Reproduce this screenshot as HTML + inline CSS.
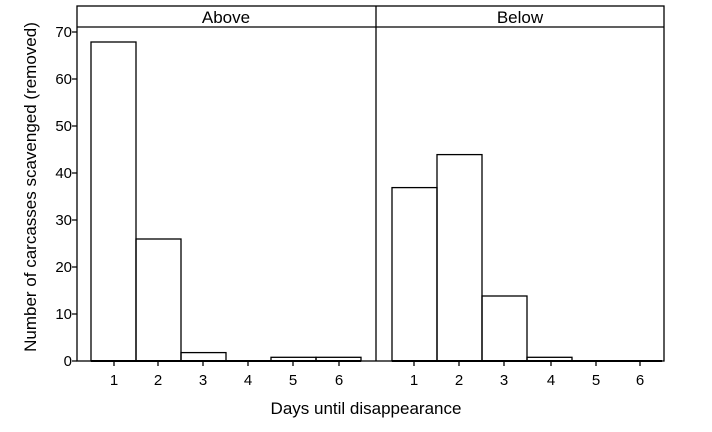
<!DOCTYPE html>
<html><head><style>body{margin:0;background:#fff}</style></head><body>
<svg width="712" height="427" xmlns="http://www.w3.org/2000/svg" font-family="Liberation Sans, sans-serif">
<rect width="712" height="427" fill="#fff"/>
<g fill="none" stroke="#000" stroke-width="1.3">
<rect x="77" y="6" width="587" height="355"/>
<line x1="77" y1="27" x2="664" y2="27"/>
<line x1="376" y1="6" x2="376" y2="361"/>
<rect x="91" y="42" width="45" height="319"/>
<rect x="136" y="239" width="45" height="122"/>
<rect x="181" y="352.6" width="45" height="8.4"/>
<rect x="271" y="357.3" width="45" height="3.7"/>
<rect x="316" y="357.3" width="45" height="3.7"/>
<line x1="91" y1="361" x2="361" y2="361" stroke-width="2"/>
<rect x="392" y="187.6" width="45" height="173.4"/>
<rect x="437" y="154.6" width="45" height="206.4"/>
<rect x="482" y="296" width="45" height="65"/>
<rect x="527" y="357.3" width="45" height="3.7"/>
<line x1="392" y1="361" x2="662" y2="361" stroke-width="2"/>
<path d="M72 32H77M72 79H77M72 126H77M72 173H77M72 220H77M72 267H77M72 314H77M72 361H77"/>
<path d="M114 361V366M158 361V366M203 361V366M248 361V366M293 361V366M339 361V366M414 361V366M459 361V366M504 361V366M551 361V366M596 361V366M640 361V366"/>
</g>
<g font-size="15" text-anchor="end">
<text x="72" y="37">70</text><text x="72" y="84">60</text><text x="72" y="131">50</text><text x="72" y="178">40</text><text x="72" y="225">30</text><text x="72" y="272">20</text><text x="72" y="319">10</text><text x="72" y="366">0</text>
</g>
<g font-size="15" text-anchor="middle">
<text x="114" y="385">1</text><text x="158" y="385">2</text><text x="203" y="385">3</text><text x="248" y="385">4</text><text x="293" y="385">5</text><text x="339" y="385">6</text>
<text x="414" y="385">1</text><text x="459" y="385">2</text><text x="504" y="385">3</text><text x="551" y="385">4</text><text x="596" y="385">5</text><text x="640" y="385">6</text>
</g>
<text x="226" y="23" font-size="17" text-anchor="middle">Above</text>
<text x="520" y="23" font-size="17" text-anchor="middle">Below</text>
<text x="366" y="414" font-size="17" text-anchor="middle">Days until disappearance</text>
<text transform="translate(36,187) rotate(-90)" font-size="17" text-anchor="middle">Number of carcasses scavenged (removed)</text>
</svg>
</body></html>
